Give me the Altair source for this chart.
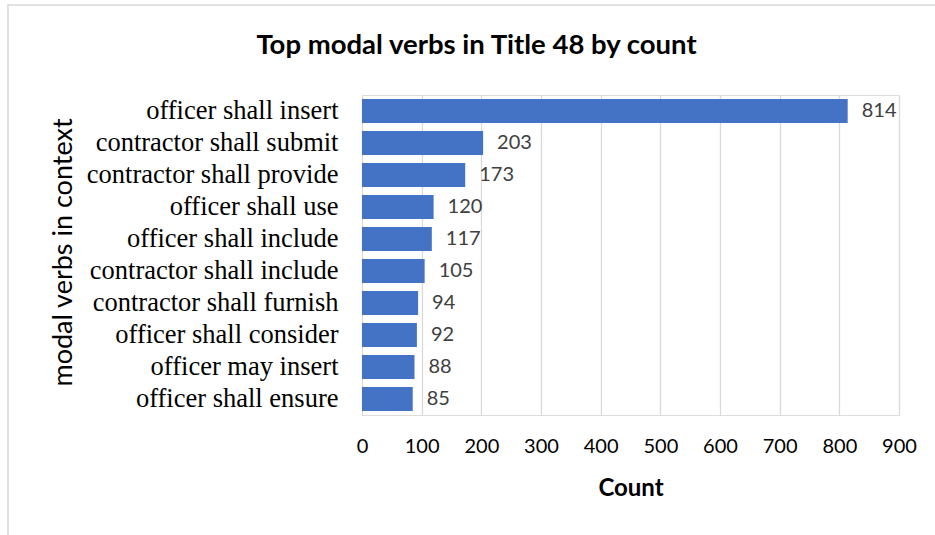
import altair as alt
import pandas as pd

labels = [
    "officer shall insert",
    "contractor shall submit",
    "contractor shall provide",
    "officer shall use",
    "officer shall include",
    "contractor shall include",
    "contractor shall furnish",
    "officer shall consider",
    "officer may insert",
    "officer shall ensure",
]
counts = [814, 203, 173, 120, 117, 105, 94, 92, 88, 85]

df = pd.DataFrame({"phrase": labels, "count": counts})

SANS = "Lato"
SERIF = "Liberation Serif"

y_enc = alt.Y(
    "phrase:N",
    sort=labels,
    scale=alt.Scale(paddingInner=0.25, paddingOuter=0.125),
    axis=alt.Axis(
        title="modal verbs in context",
        titleFont=SANS,
        titleFontSize=27,
        titleFontWeight="normal",
        titleColor="#000000",
        titleX=-291,
        titleY=157,
        titleAngle=-90,
        titleAlign="center",
        titleBaseline="alphabetic",
        labelFont=SERIF,
        labelFontSize=26.5,
        labelColor="#000000",
        labelPadding=24,
        ticks=False,
        domain=False,
        grid=False,
        labelLimit=400,
    ),
)

x_enc = alt.X(
    "count:Q",
    scale=alt.Scale(domain=[0, 900], nice=False),
    axis=alt.Axis(
        title="Count",
        titleFont=SANS,
        titleFontSize=24,
        titleFontWeight="bold",
        titleColor="#000000",
        titleY=73,
        titleBaseline="middle",
        values=list(range(0, 1000, 100)),
        labelFont=SANS,
        labelFontSize=20,
        labelColor="#000000",
        labelBaseline="middle",
        labelPadding=31,
        labelFlush=False,
        labelOverlap=False,
        ticks=False,
        domain=False,
        grid=True,
        gridColor="#d9d9d9",
        gridWidth=1.3,
    ),
)

bars = alt.Chart(df).mark_bar(color="#4472C4").encode(x=x_enc, y=y_enc)

text = alt.Chart(df).mark_text(
    align="left", baseline="middle", dx=14, font=SANS, fontSize=20, color="#404040"
).encode(x="count:Q", y=alt.Y("phrase:N", sort=labels), text="count:Q")

border = alt.Chart(alt.Data(values=[{"a": 1}])).mark_rect(
    fill=None, stroke="#d9d9d9", strokeWidth=1.5
).encode(
    x=alt.value(-354), x2=alt.value(590), y=alt.value(-90), y2=alt.value(460)
)

chart = (
    alt.layer(border, bars, text)
    .properties(
        width=537,
        height=320,
        title=alt.TitleParams(
            "Top modal verbs in Title 48 by count",
            font=SANS,
            fontSize=27.5,
            fontWeight="bold",
            color="#000000",
            anchor="middle",
            baseline="alphabetic",
            dx=-154,
            offset=-77,
        ),
        autosize=alt.AutoSizeParams(type="none"),
        padding={"left": 362, "top": 95, "right": 36, "bottom": 120},
    )
    .configure_view(stroke=None)
    .configure(background="white")
)

chart.save("out.html", embed_options={"renderer": "svg", "actions": False})
